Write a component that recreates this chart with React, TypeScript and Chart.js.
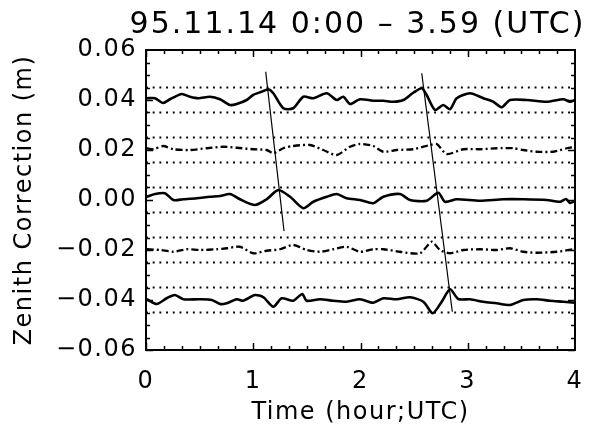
import React, { useEffect, useRef } from "react";
import { Chart, registerables } from "chart.js";

Chart.register(...registerables);

const TITLE = "95.11.14 0:00 – 3.59 (UTC)";
const X_TITLE = "Time (hour;UTC)";
const Y_TITLE = "Zenith Correction (m)";

const X_TICKS = [0, 1, 2, 3, 4];
const Y_TICKS = [-0.06, -0.04, -0.02, 0, 0.02, 0.04, 0.06];
const X_MINOR_PER_MAJOR = 6;
const Y_MINOR_PER_MAJOR = 4;

const DOTTED_LEVELS = [0.045, 0.035, 0.025, 0.015, 0.005, -0.005, -0.015, -0.025, -0.035, -0.045];

const trace040Hours = [0.007, 0.084, 0.159, 0.224, 0.333, 0.41, 0.488, 0.597, 0.69, 0.783, 0.846, 0.939, 0.998, 1.079, 1.14, 1.187, 1.28, 1.373, 1.467, 1.56, 1.685, 1.778, 1.84, 1.902, 1.995, 2.119, 2.213, 2.306, 2.399, 2.492, 2.571, 2.617, 2.695, 2.772, 2.835, 2.897, 3.021, 3.145, 3.238, 3.317, 3.394, 3.55, 3.736, 3.891, 3.953, 4.0];
const trace040Values = [0.0407, 0.0407, 0.0388, 0.0403, 0.0424, 0.0413, 0.0407, 0.0413, 0.0403, 0.038, 0.0384, 0.04, 0.042, 0.0433, 0.0443, 0.0427, 0.0367, 0.0367, 0.0413, 0.0407, 0.0427, 0.04, 0.0413, 0.0384, 0.0403, 0.0397, 0.0397, 0.0393, 0.04, 0.0429, 0.0447, 0.042, 0.036, 0.038, 0.0363, 0.0407, 0.0427, 0.0407, 0.0393, 0.0371, 0.04, 0.04, 0.0393, 0.0403, 0.0393, 0.04];

const trace020Hours = [0.007, 0.068, 0.161, 0.255, 0.41, 0.566, 0.721, 0.846, 1.0, 1.125, 1.187, 1.28, 1.373, 1.529, 1.653, 1.778, 1.902, 1.995, 2.119, 2.213, 2.338, 2.492, 2.648, 2.711, 2.804, 2.958, 3.114, 3.27, 3.425, 3.518, 3.643, 3.798, 3.923, 4.0];
const trace020Values = [0.0207, 0.0203, 0.0216, 0.0203, 0.02, 0.0207, 0.0213, 0.0209, 0.0203, 0.02, 0.0187, 0.0207, 0.0216, 0.022, 0.02, 0.018, 0.0213, 0.0224, 0.0216, 0.0193, 0.02, 0.0203, 0.022, 0.0224, 0.0184, 0.0203, 0.0203, 0.0207, 0.0207, 0.02, 0.0193, 0.0193, 0.0207, 0.0212];

const trace000Hours = [0.007, 0.084, 0.177, 0.255, 0.348, 0.473, 0.597, 0.69, 0.783, 0.876, 1.016, 1.125, 1.234, 1.343, 1.467, 1.56, 1.685, 1.778, 1.871, 1.995, 2.119, 2.213, 2.368, 2.462, 2.617, 2.725, 2.788, 2.897, 3.114, 3.331, 3.518, 3.736, 3.86, 3.916, 3.953, 4.0];
const trace000Values = [0.0013, 0.0024, 0.0027, 0.0, 0.0003, 0.0007, 0.0013, 0.0016, 0.0024, 0.0003, -0.002, 0.0003, 0.004, 0.0013, -0.0033, -0.0007, 0.0013, 0.0024, 0.0007, 0.0, -0.0013, 0.0013, 0.0024, 0.0, -0.0003, 0.0029, -0.0007, 0.0003, -0.0003, 0.0003, 0.0003, 0.0, -0.0007, 0.0004, -0.0012, -0.0004];

const traceM020Hours = [0.007, 0.131, 0.255, 0.379, 0.503, 0.659, 0.752, 0.876, 1.0, 1.125, 1.249, 1.373, 1.498, 1.622, 1.746, 1.871, 1.995, 2.119, 2.213, 2.368, 2.555, 2.664, 2.741, 2.835, 2.958, 3.114, 3.27, 3.394, 3.518, 3.643, 3.83, 4.0];
const traceM020Values = [-0.0197, -0.02, -0.0207, -0.0197, -0.02, -0.0197, -0.0193, -0.0187, -0.0213, -0.0203, -0.0197, -0.018, -0.02, -0.0207, -0.0197, -0.0187, -0.0207, -0.0197, -0.0197, -0.0207, -0.0213, -0.0167, -0.02, -0.0213, -0.02, -0.0197, -0.02, -0.0193, -0.0207, -0.0211, -0.0207, -0.0196];

const traceM040Hours = [0.007, 0.1, 0.193, 0.27, 0.348, 0.503, 0.613, 0.69, 0.752, 0.846, 0.907, 1.016, 1.094, 1.187, 1.265, 1.373, 1.457, 1.498, 1.622, 1.746, 1.871, 1.995, 2.119, 2.213, 2.338, 2.462, 2.586, 2.673, 2.757, 2.835, 2.912, 3.021, 3.145, 3.27, 3.394, 3.518, 3.643, 3.767, 3.891, 4.0];
const traceM040Values = [-0.0397, -0.0416, -0.0393, -0.038, -0.0397, -0.0397, -0.04, -0.0416, -0.0413, -0.0397, -0.0403, -0.038, -0.0389, -0.0427, -0.0393, -0.0403, -0.0376, -0.0403, -0.0397, -0.0403, -0.0407, -0.0397, -0.0411, -0.0393, -0.0397, -0.0389, -0.0407, -0.0453, -0.0407, -0.0357, -0.0396, -0.0397, -0.0407, -0.0413, -0.042, -0.04, -0.0397, -0.0403, -0.0407, -0.0411];

const slant1Hours = [1.116, 1.287];
const slant1Values = [0.0513, -0.0124];
const slant2Hours = [2.571, 2.856];
const slant2Values = [0.0507, -0.0447];

const FONT = "DejaVu Sans";

function zip(hours: number[], values: number[]) {
  return hours.map((h, i) => ({ x: h, y: values[i] }));
}

function fmtY(v: number) {
  const s = Math.abs(v).toFixed(2);
  return v < -1e-9 ? "\u2212" + s : s;
}

const framePlugin = {
  id: "frame",
  beforeDraw(chart: any) {
    // wider glyph spacing, like the original vector font
    (chart.ctx as any).letterSpacing = "1.5px";
  },
  afterDatasetsDraw(chart: any) {
    const { ctx, chartArea, scales } = chart;
    const { left, right, top, bottom } = chartArea;
    const xs = scales.x;
    const ys = scales.y;
    ctx.save();
    ctx.strokeStyle = "#000";
    ctx.lineWidth = 1.5;
    ctx.beginPath();
    for (let i = 0; i < X_TICKS.length - 1; i++) {
      const a = X_TICKS[i];
      const b = X_TICKS[i + 1];
      for (let k = 0; k < X_MINOR_PER_MAJOR; k++) {
        const v = a + ((b - a) * k) / X_MINOR_PER_MAJOR;
        const px = Math.round(xs.getPixelForValue(v)) + 0.5;
        const len = k === 0 ? 7 : 4;
        ctx.moveTo(px, bottom);
        ctx.lineTo(px, bottom - len);
        ctx.moveTo(px, top);
        ctx.lineTo(px, top + len);
      }
    }
    for (let i = 0; i < Y_TICKS.length - 1; i++) {
      const a = Y_TICKS[i];
      const b = Y_TICKS[i + 1];
      for (let k = 0; k < Y_MINOR_PER_MAJOR; k++) {
        const v = a + ((b - a) * k) / Y_MINOR_PER_MAJOR;
        const py = Math.round(ys.getPixelForValue(v)) + 0.5;
        const len = k === 0 ? 7 : 4;
        ctx.moveTo(left, py);
        ctx.lineTo(left + len, py);
        ctx.moveTo(right, py);
        ctx.lineTo(right - len, py);
      }
    }
    ctx.stroke();
    ctx.lineWidth = 2;
    ctx.strokeRect(left, top, right - left, bottom - top);
    ctx.restore();
  },
  afterDraw(chart: any) {
    const { ctx, chartArea } = chart;
    ctx.save();
    ctx.fillStyle = "#000";
    ctx.font = `30px "${FONT}"`;
    (ctx as any).letterSpacing = "2px";
    ctx.textAlign = "center";
    ctx.textBaseline = "alphabetic";
    ctx.fillText(TITLE, (chartArea.left + chartArea.right) / 2 - 3, 33);
    ctx.restore();
  },
};

export default function App() {
  const ref = useRef<HTMLCanvasElement | null>(null);

  useEffect(() => {
    if (!ref.current) return;
    const dotted = DOTTED_LEVELS.map((lv) => ({
      data: [
        { x: 0, y: lv },
        { x: 4, y: lv },
      ],
      borderColor: "#000",
      borderWidth: 1.9,
      borderDash: [1.9, 4.8],
      borderCapStyle: "butt",
      pointRadius: 0,
      tension: 0,
    }));
    const solid = (pts: any) => ({
      data: pts,
      borderColor: "#000",
      borderWidth: 2.6,
      pointRadius: 0,
      tension: 0.25,
      borderJoinStyle: "round",
    });
    const dashdot = (pts: any) => ({
      data: pts,
      borderColor: "#000",
      borderWidth: 2.3,
      borderDash: [7, 3, 2, 3],
      pointRadius: 0,
      tension: 0.25,
    });
    const slant = (pts: any) => ({
      data: pts,
      borderColor: "#000",
      borderWidth: 1.2,
      pointRadius: 0,
      tension: 0,
    });

    const chart = new Chart(ref.current, {
      type: "line",
      data: {
        datasets: [
          ...dotted,
          solid(zip(trace040Hours, trace040Values)),
          dashdot(zip(trace020Hours, trace020Values)),
          solid(zip(trace000Hours, trace000Values)),
          dashdot(zip(traceM020Hours, traceM020Values)),
          solid(zip(traceM040Hours, traceM040Values)),
          slant(zip(slant1Hours, slant1Values)),
          slant(zip(slant2Hours, slant2Values)),
        ] as any,
      },
      options: {
        animation: false,
        responsive: false,
        devicePixelRatio: 1,
        layout: { padding: { top: 50, right: 31, left: 0, bottom: 0 } },
        plugins: {
          legend: { display: false },
          tooltip: { enabled: false },
          title: { display: false },
        },
        scales: {
          x: {
            type: "linear",
            min: 0,
            max: 4,
            afterBuildTicks: (s: any) => {
              s.ticks = X_TICKS.map((v) => ({ value: v }));
            },
            afterFit: (s: any) => {
              s.height = 80;
            },
            grid: { display: false, drawTicks: false },
            border: { display: false },
            ticks: {
              color: "#000",
              font: { family: FONT, size: 24 },
              padding: 17,
              maxRotation: 0,
              autoSkip: false,
              callback: (v: any) => String(v),
            },
            title: {
              display: true,
              text: X_TITLE,
              color: "#000",
              font: { family: FONT, size: 24 },
              padding: { top: 0, bottom: 3 },
            },
          },
          y: {
            type: "linear",
            min: -0.06,
            max: 0.06,
            afterBuildTicks: (s: any) => {
              s.ticks = Y_TICKS.map((v) => ({ value: v }));
            },
            afterFit: (s: any) => {
              s.width = 146;
            },
            grid: { display: false, drawTicks: false },
            border: { display: false },
            ticks: {
              color: "#000",
              font: { family: FONT, size: 24 },
              padding: 9,
              autoSkip: false,
              callback: (v: any) => fmtY(Number(v)),
            },
            title: {
              display: true,
              text: Y_TITLE,
              color: "#000",
              font: { family: FONT, size: 24 },
              padding: { top: 10, bottom: 0 },
            },
          },
        },
      } as any,
      plugins: [framePlugin as any],
    });
    return () => chart.destroy();
  }, []);

  return (
    <div style={{ position: "absolute", left: 0, top: 0, width: 606, height: 430, background: "#fff" }}>
      <canvas ref={ref} width={606} height={430} style={{ display: "block" }} />
    </div>
  );
}
